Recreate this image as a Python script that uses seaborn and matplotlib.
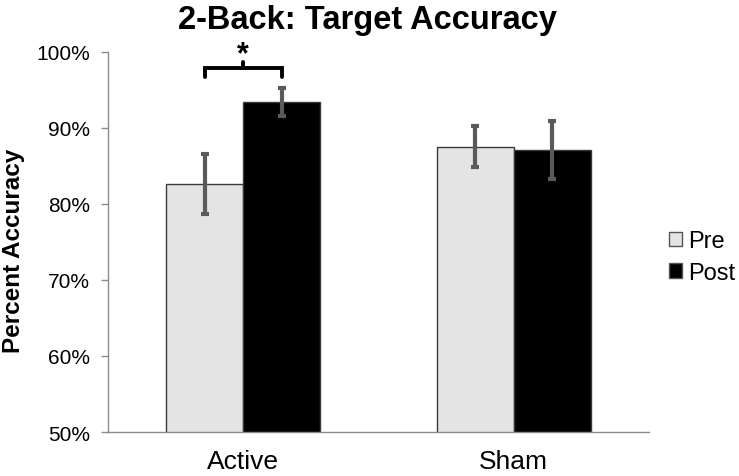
import pandas as pd
import numpy as np
import matplotlib
matplotlib.use("Agg")
import matplotlib.pyplot as plt
import seaborn as sns

groups = ["Active", "Active", "Sham", "Sham"]
sessions = ["Pre", "Post", "Pre", "Post"]
accuracy = [82.6, 93.4, 87.5, 87.1]
sem = [4.0, 1.8, 2.7, 3.8]

y_ticks = [50, 60, 70, 80, 90, 100]
PALETTE = {"Pre": "#e4e4e4", "Post": "#000000"}

sns.set_style("white")
plt.rcParams["font.family"] = ["Liberation Sans", "DejaVu Sans"]
plt.rcParams["text.color"] = "black"
plt.rcParams["xtick.labelcolor"] = "black"
plt.rcParams["ytick.labelcolor"] = "black"
plt.rcParams["axes.labelcolor"] = "black"

df = pd.DataFrame({"Group": groups, "Session": sessions, "Accuracy": accuracy, "SEM": sem})

fig = plt.figure(figsize=(7.39, 4.77), dpi=100)
ax = fig.add_axes([0.1461, 0.0922, 0.878 - 0.1461, 0.8895 - 0.0922])

sns.barplot(data=df, x="Group", y="Accuracy", hue="Session", hue_order=["Pre", "Post"],
            palette=PALETTE, width=0.57, errorbar=None, edgecolor="#3a3a3a", linewidth=1,
            ax=ax, legend=True)

# error bars on each bar, from the bar geometry
centers = {}
for container, sess in zip(ax.containers, ["Pre", "Post"]):
    sub = df[df["Session"] == sess].reset_index(drop=True)
    for bar, (_, row) in zip(container.patches, sub.iterrows()):
        cx = bar.get_x() + bar.get_width() / 2
        centers[(row["Group"], sess)] = cx
        ax.errorbar(cx, row["Accuracy"], yerr=row["SEM"], fmt="none", ecolor="#5a5a5a",
                    elinewidth=3, capsize=2.6, capthick=3, zorder=5)

# significance bracket
x1 = centers[("Active", "Pre")]
x2 = centers[("Active", "Post")]
ax.plot([x1, x1, x2, x2], [96.7, 97.9, 97.9, 96.7], color="black", lw=2.8, clip_on=False,
        solid_joinstyle="miter")
ax.plot([(x1 + x2) / 2] * 2, [97.9, 98.7], color="black", lw=2.8, clip_on=False)
ax.text((x1 + x2) / 2, 101.6, "*", ha="center", va="top", fontsize=22, fontweight="bold",
        clip_on=False)

ax.set_ylim(50, 100)
ax.set_yticks(y_ticks)
ax.set_yticklabels([f"{t}%" for t in y_ticks], fontsize=15)
ax.set_xlim(-0.5, 1.5)
ax.set_xticks([0, 1])
ax.set_xticklabels(["Active", "Sham"], fontsize=19)
ax.set_xticks([-0.5, 0.5, 1.5], minor=True)
ax.tick_params(axis="x", which="major", length=0, pad=12)
ax.tick_params(axis="x", which="minor", length=7, color="#8c8c8c", width=1)
ax.tick_params(axis="y", length=5, color="#8c8c8c", width=1, pad=8, left=True)
ax.set_xlabel("")
ax.set_ylabel("Percent Accuracy", fontsize=17.5, fontweight="bold")
ax.yaxis.set_label_coords(-0.153, 0.48)

for side in ["top", "right"]:
    ax.spines[side].set_visible(False)
for side in ["left", "bottom"]:
    ax.spines[side].set_color("#8c8c8c")
    ax.spines[side].set_linewidth(1)

leg = ax.legend(loc="center left", bbox_to_anchor=(0.998, 0.46), frameon=False, fontsize=17,
                handlelength=0.55, handleheight=0.55, handletextpad=0.25, labelspacing=0.4)
for h in leg.legend_handles:
    h.set_edgecolor("#555555")

fig.suptitle("2-Back: Target Accuracy", x=0.497, y=0.99, fontsize=23.5, fontweight="bold")

fig.savefig("out.png", dpi=100)
